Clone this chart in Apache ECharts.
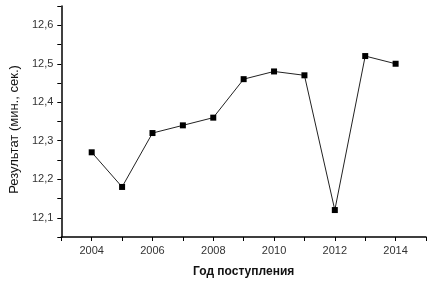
<!DOCTYPE html>
<html><head><meta charset="utf-8">
<script src="https://cdn.jsdelivr.net/npm/echarts@6/dist/echarts.min.js"></script>
<style>html,body{margin:0;padding:0;background:#fff}#c{width:444px;height:283px}</style>
</head><body><div id="c"></div>
<script>
const years = [2004, 2005, 2006, 2007, 2008, 2009, 2010, 2011, 2012, 2013, 2014];
const results = [12.27, 12.18, 12.32, 12.34, 12.36, 12.46, 12.48, 12.47, 12.12, 12.52, 12.50];
const xTitle = 'Год поступления';
const yTitle = 'Результат (мин., сек.)';

const chart = echarts.init(document.getElementById('c'), null, {renderer: 'canvas'});
const font = 'Liberation Sans, Arial, sans-serif';
chart.setOption({
  animation: false,
  grid: {left: 60, right: 18, top: 6, bottom: 45},
  xAxis: {
    type: 'value', min: 2003, max: 2015, interval: 1,
    name: xTitle, nameLocation: 'middle', nameGap: 29,
    nameTextStyle: {fontFamily: font, fontSize: 12, fontWeight: 'bold', color: '#111'},
    axisLine: {show: true, lineStyle: {color: '#000', width: 1.5}},
    axisTick: {show: true, length: 4, lineStyle: {color: '#000'}},
    splitLine: {show: false},
    axisLabel: {fontFamily: font, fontSize: 11, color: '#333', margin: 8,
      formatter: v => (v % 2 === 0 ? String(v) : '')}
  },
  yAxis: {
    type: 'value', min: 12.05, max: 12.65, interval: 0.05,
    name: yTitle, nameLocation: 'middle', nameGap: 40,
    nameTextStyle: {fontFamily: font, fontSize: 13, color: '#111', padding: [0, 16, 0, 0]},
    axisLine: {show: true, lineStyle: {color: '#000', width: 1.5}},
    axisTick: {show: true, length: 4, lineStyle: {color: '#000'}},
    splitLine: {show: false},
    axisLabel: {fontFamily: font, fontSize: 11, color: '#333', margin: 8,
      formatter: v => (Math.round(v * 100) % 10 === 0 ? v.toFixed(1).replace('.', ',') : '')}
  },
  series: [{
    type: 'line',
    data: years.map((y, i) => [y, results[i]]),
    symbol: 'rect', symbolSize: 6,
    itemStyle: {color: '#000'},
    lineStyle: {color: '#222', width: 1}
  }]
});
</script></body></html>
